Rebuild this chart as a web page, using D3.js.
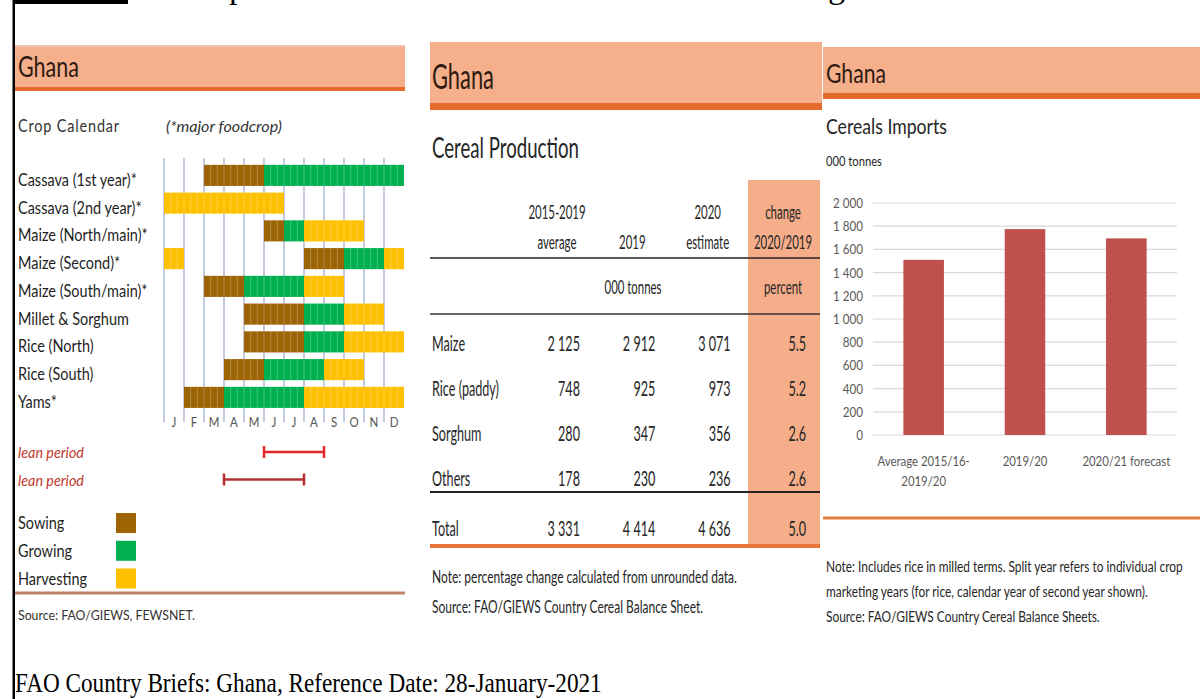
<!DOCTYPE html>
<html><head><meta charset="utf-8">
<script src="https://cdn.jsdelivr.net/npm/d3@7"></script>
<style>body{margin:0;background:#fff}svg{display:block}</style>
</head><body>
<script>
// ================= DATA =================
const months = ["J","F","M","A","M","J","J","A","S","O","N","D"];
const crops = ["Cassava (1st year)*","Cassava (2nd year)*","Maize (North/main)*","Maize (Second)*","Maize (South/main)*","Millet & Sorghum","Rice (North)","Rice (South)","Yams*"];
const phases = ["Sowing","Growing","Harvesting"];
const phaseColors = ["#9c6404","#00b050","#ffc000"];
// [phase, start month index, end month index (exclusive)]
const cropCalendar = [
  [["Sowing",2,5],["Growing",5,12]],
  [["Harvesting",0,6]],
  [["Sowing",5,6],["Growing",6,7],["Harvesting",7,10]],
  [["Harvesting",0,1],["Sowing",7,9],["Growing",9,11],["Harvesting",11,12]],
  [["Sowing",2,4],["Growing",4,7],["Harvesting",7,9]],
  [["Sowing",4,7],["Growing",7,9],["Harvesting",9,11]],
  [["Sowing",4,7],["Growing",7,9],["Harvesting",9,12]],
  [["Sowing",3,5],["Growing",5,8],["Harvesting",8,10]],
  [["Sowing",1,3],["Growing",3,7],["Harvesting",7,12]]
];
const leanPeriods = [[5,8],[3,7]];
const leanColors = ["#e3282b","#b3302f"];

const prodCrops = ["Maize","Rice (paddy)","Sorghum","Others","Total"];
const prodAvg = [2125,748,280,178,3331];
const prod2019 = [2912,925,347,230,4414];
const prod2020 = [3071,973,356,236,4636];
const prodChange = [5.5,5.2,2.6,2.6,5.0];
const prodCols = ["avg","y2019","y2020","change"];
const prodHeaders1 = ["2015-2019","","2020","change"];
const prodHeaders2 = ["average","2019","estimate","2020/2019"];

const importCats = ["Average 2015/16-2019/20","2019/20","2020/21 forecast"];
const importLabels = [["Average 2015/16-","2019/20"],["2019/20"],["2020/21 forecast"]];
const importValues = [1510,1775,1695];
const importTicks = [0,200,400,600,800,1000,1200,1400,1600,1800,2000];

// ================= SETUP =================
const FONT = "Lato, 'Open Sans', sans-serif";
const SERIF = "'Liberation Serif', 'Times New Roman', serif";
const HEAD = "#f5b08b", ORANGE = "#e56b2d";
const svg = d3.select("body").append("svg").attr("width",1200).attr("height",699);
svg.append("rect").attr("width",1200).attr("height",699).attr("fill","#fff");

const spaceLocale = d3.formatLocale({decimal:".", thousands:" ", grouping:[3], currency:["",""]});
const fmtInt = spaceLocale.format(",");
const fmtAxis = spaceLocale.format(",");
const fmt1 = d3.format(".1f");

function styleText(t, o){
  t.attr("font-family", o.family || FONT).attr("font-size", o.size || 14)
   .attr("font-style", o.style || null).attr("font-weight", o.weight || null)
   .attr("letter-spacing", o.ls || null);
}
function measure(str, o){
  const t = svg.append("text").text(str); styleText(t,o);
  const w = t.node().getComputedTextLength(); t.remove(); return w;
}
function fit(str, o, w){ return w / measure(str, o); }
function T(parent, x, y, str, o = {}){
  const sx = o.w ? fit(str, o, o.w) : (o.sx || 1);
  const g = parent.append("g").attr("transform", `translate(${x},${y}) scale(${sx},1)`);
  const t = g.append("text").text(str).attr("fill", o.fill || "#262626")
    .attr("text-anchor", o.anchor || "start").attr("xml:space","preserve");
  styleText(t,o);
  return t;
}

// ================= FRAME =================
svg.append("rect").attr("x",12.5).attr("y",0).attr("width",2.5).attr("height",699).attr("fill","#000");
svg.append("rect").attr("x",13).attr("y",0).attr("width",115).attr("height",4).attr("fill","#000");
T(svg, 229, -2.5, "p", {family:SERIF, size:34, fill:"#000"});
T(svg, 828, -2.5, "g", {family:SERIF, size:34, fill:"#000"});
T(svg, 15, 692, "FAO Country Briefs: Ghana, Reference Date: 28-January-2021", {family:SERIF, size:27.5, fill:"#000", w:587});

// ================= PANEL 1: CROP CALENDAR =================
const p1 = svg.append("g");
p1.append("rect").attr("x",15).attr("y",45).attr("width",390).attr("height",42).attr("fill",HEAD);
p1.append("rect").attr("x",15).attr("y",45).attr("width",390).attr("height",2).attr("fill","#efc2ab");
p1.append("rect").attr("x",15).attr("y",87).attr("width",390).attr("height",4).attr("fill",ORANGE);
T(p1, 18, 77, "Ghana", {size:29, w:61, fill:"#2e1a10"});
T(p1, 18, 132, "Crop Calendar", {size:17, w:102, fill:"#333", ls:1});
T(p1, 166, 132, "(*major foodcrop)", {size:16, w:116, style:"italic", fill:"#333"});

const mx = d3.scaleLinear().domain([0,12]).range([164,404]);
const ry = d3.scaleBand().domain(crops).range([161.5,411.25]).paddingInner(0.24).paddingOuter(0.12);
const pc = d3.scaleOrdinal().domain(phases).range(phaseColors);

// month grid lines
p1.append("g").selectAll("line").data(d3.range(12)).join("line")
  .attr("x1",d=>mx(d)).attr("x2",d=>mx(d)).attr("y1",158).attr("y2",422)
  .attr("stroke","#9aabc9").attr("stroke-width",1.2);

// bars
const segs = [];
cropCalendar.forEach((row,i)=>row.forEach(s=>segs.push({crop:crops[i], phase:s[0], a:s[1], b:s[2]})));
p1.append("g").selectAll("rect").data(segs).join("rect")
  .attr("x",d=>mx(d.a)).attr("width",d=>mx(d.b)-mx(d.a))
  .attr("y",d=>ry(d.crop)).attr("height",ry.bandwidth())
  .attr("fill",d=>pc(d.phase));
// dekad lines inside bars
const dek = [];
segs.forEach(s=>{ for(let k=s.a*3+1;k<s.b*3;k++) dek.push({crop:s.crop, m:k/3}); });
p1.append("g").selectAll("line").data(dek).join("line")
  .attr("x1",d=>mx(d.m)).attr("x2",d=>mx(d.m))
  .attr("y1",d=>ry(d.crop)).attr("y2",d=>ry(d.crop)+ry.bandwidth())
  .attr("stroke","#fff").attr("stroke-opacity",0.28).attr("stroke-width",0.9);

// crop labels
const sxLab = fit(crops[0], {size:16.5}, 119);
crops.forEach(c=>T(p1, 18, ry(c)+ry.bandwidth()/2+10.5, c, {size:16.5, sx:sxLab, fill:"#1f1f1f"}));
// month labels
months.forEach((m,i)=>T(p1, mx(i+0.5), 427, m, {size:13.5, sx:0.85, fill:"#555", anchor:"middle"}));

// lean periods
const leanY = [452, 479.5];
const sxLean = fit("lean period", {size:15.5, style:"italic"}, 66);
leanPeriods.forEach((lp,i)=>{
  T(p1, 18, leanY[i]+6, "lean period", {size:15.5, style:"italic", sx:sxLean, fill:"#c0392b"});
  const g = p1.append("g").attr("stroke",leanColors[i]).attr("stroke-width",2.5);
  g.append("line").attr("x1",mx(lp[0])).attr("x2",mx(lp[1])).attr("y1",leanY[i]).attr("y2",leanY[i]);
  g.selectAll(".cap").data(lp).join("line").attr("class","cap")
   .attr("x1",d=>mx(d)).attr("x2",d=>mx(d)).attr("y1",leanY[i]-6).attr("y2",leanY[i]+6);
});

// legend
const legY = d3.scalePoint().domain(phases).range([523,578.5]);
phases.forEach(p=>{
  p1.append("rect").attr("x",116).attr("y",legY(p)-10).attr("width",20).attr("height",20).attr("fill",pc(p));
  T(p1, 18, legY(p)+6, p, {size:16.5, sx:sxLab, fill:"#1f1f1f"});
});
p1.append("rect").attr("x",15).attr("y",591.5).attr("width",390).attr("height",3).attr("fill","#c0826a");
T(p1, 18, 620, "Source: FAO/GIEWS, FEWSNET.", {size:14, w:177, fill:"#333"});

// ================= PANEL 2: CEREAL PRODUCTION =================
const p2 = svg.append("g");
p2.append("rect").attr("x",430).attr("y",42).attr("width",392).attr("height",61).attr("fill",HEAD);
p2.append("rect").attr("x",430).attr("y",103).attr("width",392).attr("height",7).attr("fill",ORANGE);
T(p2, 432, 89, "Ghana", {size:34, w:62, fill:"#2e1a10"});
T(p2, 432, 158, "Cereal Production", {size:28, w:147, fill:"#262626"});
// change column shade
p2.append("rect").attr("x",748).attr("y",180).attr("width",72).attr("height",366).attr("fill","#f6ae8a");

const colX = d3.scalePoint().domain(prodCols).range([580,806]);
const rowY = d3.scalePoint().domain(prodCrops.slice(0,4)).range([343,478]);
const yRow = c => c === "Total" ? 528 : rowY(c);
const sxTab = fit("Rice (paddy)", {size:21}, 67);

prodCols.forEach((c,i)=>{
  const cx = colX(c) - 23;
  if (prodHeaders1[i]) T(p2, cx, 219, prodHeaders1[i], {size:19, sx:sxTab, anchor:"middle"});
  T(p2, cx, 249, prodHeaders2[i], {size:19, sx:sxTab, anchor:"middle"});
});
T(p2, 633, 294, "000 tonnes", {size:19, sx:sxTab, anchor:"middle"});
T(p2, 783, 294, "percent", {size:19, sx:sxTab, anchor:"middle"});

p2.append("line").attr("x1",430).attr("x2",820).attr("y1",258).attr("y2",258).attr("stroke","#222").attr("stroke-width",1.5);
p2.append("line").attr("x1",430).attr("x2",820).attr("y1",314).attr("y2",314).attr("stroke","#333").attr("stroke-width",1.5);
p2.append("line").attr("x1",430).attr("x2",820).attr("y1",492).attr("y2",492).attr("stroke","#222").attr("stroke-width",1.8);

const colVals = {avg:prodAvg, y2019:prod2019, y2020:prod2020, change:prodChange};
prodCrops.forEach((c,r)=>{
  const y = yRow(c) + 7.5;
  T(p2, 432, y, c, {size:21, sx:sxTab});
  prodCols.forEach(col=>{
    const v = colVals[col][r];
    T(p2, colX(col), y, col==="change" ? fmt1(v) : fmtInt(v), {size:21, sx:sxTab, anchor:"end"});
  });
});
p2.append("rect").attr("x",430).attr("y",544).attr("width",390).attr("height",4).attr("fill","#e8743a");
const sxNote2 = fit("Note: percentage change calculated from unrounded data.", {size:17.5}, 305);
T(p2, 432, 583, "Note: percentage change calculated from unrounded data.", {size:17.5, sx:sxNote2});
T(p2, 432, 613, "Source: FAO/GIEWS Country Cereal Balance Sheet.", {size:17.5, sx:sxNote2});

// ================= PANEL 3: CEREAL IMPORTS =================
const p3 = svg.append("g");
p3.append("rect").attr("x",823).attr("y",47).attr("width",377).attr("height",46).attr("fill",HEAD);
p3.append("rect").attr("x",823).attr("y",93).attr("width",377).attr("height",6).attr("fill",ORANGE);
T(p3, 826, 83, "Ghana", {size:27, w:60, fill:"#2e1a10"});
T(p3, 826, 134, "Cereals Imports", {size:22, w:121, fill:"#262626"});
T(p3, 826, 166, "000 tonnes", {size:13, w:56, fill:"#262626"});

const iy = d3.scaleLinear().domain([0,2000]).range([435,203]);
const ix = d3.scaleBand().domain(importCats).range([873,1177]).paddingInner(0.6).paddingOuter(0.3);

p3.append("g").selectAll("line").data(importTicks).join("line")
  .attr("x1",873).attr("x2",1177).attr("y1",d=>iy(d)).attr("y2",d=>iy(d))
  .attr("stroke","#d9d9d9").attr("stroke-width",1.2);

p3.append("g").selectAll("rect").data(importValues).join("rect")
  .attr("x",(d,i)=>ix(importCats[i])).attr("width",ix.bandwidth())
  .attr("y",d=>iy(d)).attr("height",d=>iy(0)-iy(d)).attr("fill","#c0504d");

const sxAx = fit("2 000", {size:13.5}, 30);
const yAx = p3.append("g").attr("transform","translate(863,0)")
  .call(d3.axisLeft(iy).tickValues(importTicks).tickFormat(fmtAxis).tickSize(0).tickPadding(0));
yAx.select(".domain").remove();
yAx.selectAll("text").remove();
yAx.selectAll(".tick").each(function(d){
  T(d3.select(this), 0, 4.5, fmtAxis(d), {size:13.5, sx:sxAx, fill:"#595959", anchor:"end"});
});

const sxX = fit("2020/21 forecast", {size:13.5}, 88);
const xAx = p3.append("g").attr("transform","translate(0,435)")
  .call(d3.axisBottom(ix).tickSize(0));
xAx.select(".domain").remove();
xAx.selectAll("text").remove();
xAx.selectAll(".tick").each(function(d,i){
  importLabels[i].forEach((ln,k)=>T(d3.select(this), 0, 31 + k*20, ln, {size:13.5, sx:sxX, fill:"#595959", anchor:"middle"}));
});

p3.append("rect").attr("x",823).attr("y",516.5).attr("width",377).attr("height",3).attr("fill","#e57d45");
const notes3 = ["Note: Includes rice in milled terms. Split year refers to individual crop",
  "marketing years (for rice, calendar year of second year shown).",
  "Source: FAO/GIEWS Country Cereal Balance Sheets."];
const sxN3 = fit(notes3[0], {size:14.5}, 357);
notes3.forEach((n,k)=>T(p3, 826, 572 + k*25, n, {size:14.5, sx:sxN3}));
</script>
</body></html>
